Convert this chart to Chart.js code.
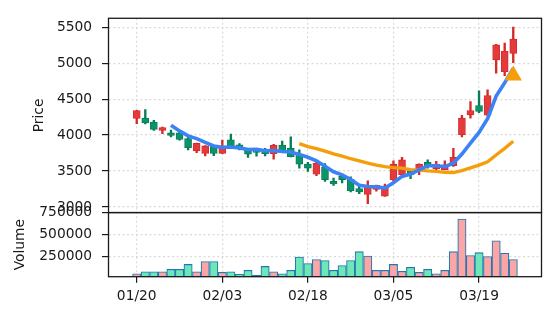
<!DOCTYPE html>
<html>
<head>
<meta charset="utf-8">
<script src="https://cdn.jsdelivr.net/npm/chart.js@4.4.1/dist/chart.umd.min.js"></script>
<style>
  html, body { margin: 0; padding: 0; background: #fff; }
  #wrap { width: 556px; height: 322px; }
</style>
</head>
<body>
<div id="wrap"><canvas id="chart" width="556" height="322"></canvas></div>
<script>
// Daily OHLC + volume, with 5 and 20 day moving averages
const dates = [
  '01/20','01/21','01/22','01/23','01/24','01/27','01/28','01/29','01/30','01/31',
  '02/03','02/04','02/05','02/06','02/07','02/10','02/11','02/12','02/13','02/14',
  '02/18','02/19','02/20','02/21','02/24','02/25','02/26','02/27','02/28','03/03',
  '03/05','03/06','03/07','03/10','03/11','03/12','03/13','03/14','03/17','03/18',
  '03/19','03/20','03/21','03/24','03/25'
];
const opens = [
  4230,4235,4180,4065,4030,4030,3950,3780,3745,3850,
  3745,3935,3865,3805,3780,3770,3740,3860,3815,3730,
  3595,3455,3550,3355,3425,3385,3255,3175,3245,3150,
  3375,3450,3505,3505,3620,3530,3520,3575,4005,4280,
  4410,4275,5045,4880,5135
];
const highs = [
  4345,4355,4205,4110,4070,4055,3965,3890,3855,3855,
  3930,4015,3880,3810,3795,3815,3870,3915,3975,3795,
  3620,3620,3605,3400,3450,3420,3300,3365,3305,3320,
  3640,3690,3520,3600,3655,3635,3640,3815,4275,4465,
  4615,4630,5260,5280,5500
];
const lows = [
  4160,4155,4065,4020,3975,3930,3795,3755,3710,3715,
  3740,3840,3795,3690,3705,3710,3665,3755,3695,3540,
  3495,3435,3355,3300,3335,3210,3185,3045,3220,3145,
  3360,3425,3395,3450,3540,3495,3515,3565,3975,4235,
  4310,4270,4860,4825,5005
];
const closes = [
  4340,4170,4080,4105,3995,3940,3825,3885,3850,3745,
  3840,3845,3830,3735,3760,3740,3860,3760,3700,3595,
  3540,3610,3380,3320,3380,3225,3210,3285,3300,3290,
  3595,3655,3450,3595,3575,3595,3585,3690,4235,4340,
  4330,4550,5255,5165,5335
];
const volumes = [
  49000,72000,72000,72000,99000,99000,156000,72000,190000,190000,
  65000,72000,42000,87000,31000,133000,72000,49000,87000,242000,
  167000,212000,201000,87000,144000,201000,303000,253000,87000,87000,
  156000,76000,122000,65000,99000,49000,87000,303000,678000,258000,
  292000,247000,428000,284000,212000
];
const ma5 = [
  null,null,null,null,4138,4058,3989,3950,3899,3849,
  3829,3833,3822,3799,3802,3782,3785,3771,3764,3731,
  3691,3641,3565,3489,3446,3383,3303,3284,3280,3262,
  3336,3425,3458,3517,3574,3574,3560,3608,3736,3889,
  4036,4229,4542,4728,4927
];
const ma20 = [
  null,null,null,null,null,null,null,null,null,null,
  null,null,null,null,null,null,null,null,null,3880,
  3840,3812,3777,3738,3707,3671,3641,3611,3583,3560,
  3548,3539,3520,3513,3503,3496,3482,3479,3506,3543,
  3582,3629,3723,3815,3913
];
const signalIdx = [44];
const signalPrice = [4830];

const priceTicks = [3000, 3500, 4000, 4500, 5000, 5500];
const volumeTicks = [250000, 500000, 750000];
const dateTicks = [0, 10, 20, 30, 40];

const INK = '#1a1a1a';
const GRID = '#dadada';
const UP = '#e33b3b', UP_EDGE = '#d42a2a';
const DOWN = '#0b936a', DOWN_EDGE = '#077c58';
const VOL_UP = '#fca5a5', VOL_DOWN = '#6ee7b7', VOL_EDGE = '#1f77b4';
const FONT = { family: 'DejaVu Sans', size: 13.8 };

const isUp = dates.map((_, i) => closes[i] >= opens[i]);

// frame around each panel, drawn over the grid
const panelFrame = {
  id: 'panelFrame',
  afterDraw(chart) {
    const { ctx, chartArea } = chart;
    ctx.save();
    ctx.strokeStyle = INK;
    ctx.lineWidth = 1.3;
    ['yPrice', 'yVol'].forEach(id => {
      const s = chart.scales[id];
      ctx.strokeRect(chartArea.left, s.top, chartArea.right - chartArea.left, s.bottom - s.top);
    });
    ctx.restore();
  }
};

function yAxis(ticks, min, max, weight, title, titlePad) {
  return {
    type: 'linear',
    position: 'left',
    stack: 'panels',
    stackWeight: weight,
    min: min,
    max: max,
    afterBuildTicks: s => { s.ticks = ticks.map(v => ({ value: v })); },
    afterFit: s => { s.width = 108.5; },
    grid: { color: GRID, lineWidth: 1.2, tickColor: INK, tickLength: 6.5, tickWidth: 1.2 },
    border: { display: false, dash: [2, 2.5] },
    ticks: { color: INK, font: FONT, padding: 10, autoSkip: false, callback: v => String(v) },
    title: { display: true, text: title, color: INK, font: FONT, padding: { top: titlePad, bottom: 0 } }
  };
}

new Chart(document.getElementById('chart'), {
  type: 'bar',
  data: {
    datasets: [
      {
        type: 'line',
        data: signalIdx.map((x, k) => ({ x: x, y: signalPrice[k] })),
        yAxisID: 'yPrice',
        showLine: false,
        pointStyle: 'triangle',
        pointRadius: 10,
        backgroundColor: '#f59e0b',
        borderColor: '#f59e0b',
        borderWidth: 0,
        order: 0
      },
      {
        type: 'line',
        data: ma5.map((v, i) => ({ x: i, y: v })),
        yAxisID: 'yPrice',
        borderColor: '#3b82f6',
        borderWidth: 3.6,
        pointRadius: 0,
        tension: 0,
        order: 1
      },
      {
        type: 'line',
        data: ma20.map((v, i) => ({ x: i, y: v })),
        yAxisID: 'yPrice',
        borderColor: '#f59e0b',
        borderWidth: 3.3,
        pointRadius: 0,
        tension: 0,
        order: 1
      },
      {
        // candle bodies
        data: dates.map((_, i) => ({ x: i, y: [opens[i], closes[i]] })),
        yAxisID: 'yPrice',
        backgroundColor: isUp.map(u => u ? UP : DOWN),
        borderColor: isUp.map(u => u ? UP_EDGE : DOWN_EDGE),
        borderWidth: 0.9,
        borderSkipped: false,
        barThickness: 7,
        grouped: false,
        order: 2
      },
      {
        // wicks
        data: dates.map((_, i) => ({ x: i, y: [lows[i], highs[i]] })),
        yAxisID: 'yPrice',
        backgroundColor: isUp.map(u => u ? UP_EDGE : DOWN_EDGE),
        borderWidth: 0,
        barThickness: 1.7,
        grouped: false,
        order: 3
      },
      {
        data: volumes.map((v, i) => ({ x: i, y: v })),
        yAxisID: 'yVol',
        backgroundColor: isUp.map(u => u ? VOL_UP : VOL_DOWN),
        borderColor: VOL_EDGE,
        borderWidth: 1.1,
        borderSkipped: false,
        barThickness: 8.3,
        grouped: false,
        order: 4
      }
    ]
  },
  options: {
    responsive: false,
    animation: false,
    devicePixelRatio: 1,
    layout: { padding: { left: 0, top: 15, right: 14.5, bottom: 0 } },
    plugins: { legend: { display: false }, tooltip: { enabled: false } },
    scales: {
      x: {
        type: 'linear',
        min: -3.3,
        max: 47.3,
        offset: false,
        afterBuildTicks: s => { s.ticks = dateTicks.map(v => ({ value: v })); },
        afterFit: s => { s.height = 45.3; },
        grid: { offset: false, color: GRID, lineWidth: 1.2, tickColor: INK, tickLength: 6, tickWidth: 1.2 },
        border: { display: false, dash: [2, 2.5] },
        ticks: { color: INK, font: FONT, padding: 5, maxRotation: 0, autoSkip: false, callback: v => dates[v] }
      },
      yVol: yAxis(volumeTicks, 15000, 753000, 1, 'Volume', 12.5),
      yPrice: yAxis(priceTicks, 2922, 5624, 3.03, 'Price', 31)
    }
  },
  plugins: [panelFrame]
});
</script>
</body>
</html>
